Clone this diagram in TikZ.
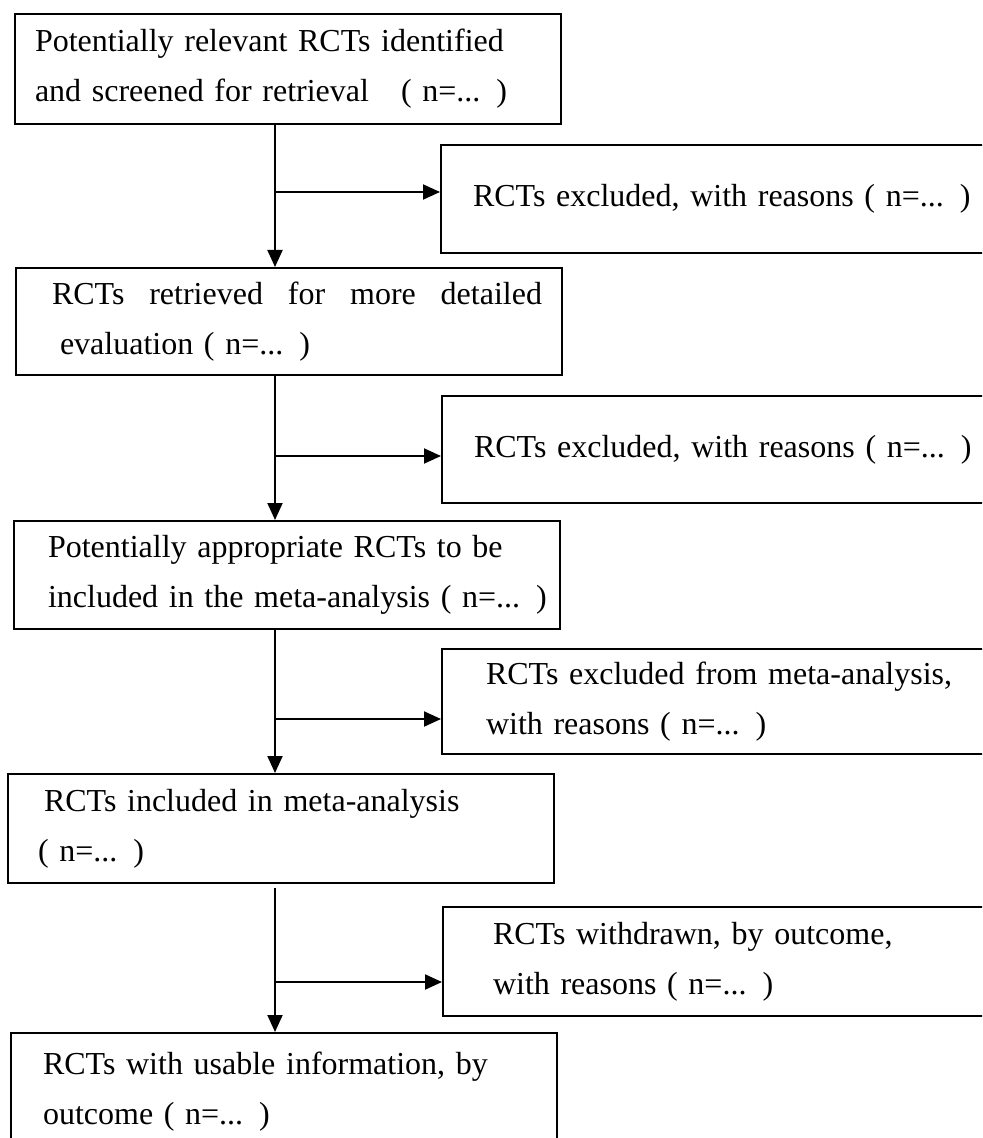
\documentclass[tikz,border=0pt]{standalone}
\usepackage{fontspec}
\setmainfont{Liberation Serif}
\usetikzlibrary{arrows.meta,calc}
\tikzstyle{stage}=[rectangle,
                   draw,
                   line width=1pt,
                   anchor=north west,
                   text width=253pt,
                   inner xsep=10pt,
                   align=left,
                   font=\fontsize{16pt}{25pt}\selectfont]
\tikzstyle{excl}=[rectangle,
                  draw,
                  line width=1pt,
                  anchor=north west,
                  text width=262pt,
                  inner xsep=16pt,
                  align=left,
                  font=\fontsize{16pt}{25pt}\selectfont]
\tikzstyle{line} = [draw, line width=1pt, -{Triangle[length=8.5pt,width=7.5pt]}]

\begin{document}
\begin{tikzpicture}[x=0.5pt,y=-0.5pt]
      % page frame; the boxes on the right and the last box run off it
      \useasboundingbox (0,0) rectangle (982,1138);
      \clip (0,0) rectangle (982,1138);

      \node [stage, minimum height=55pt] (identified) at (14,13)
        {Potentially relevant RCTs identified\\
         and screened for retrieval\quad( n=... )};
      \node [stage, minimum height=53.5pt] (retrieved) at (15,267)
        {\hspace*{8pt}RCTs\hfill retrieved\hfill for\hfill more\hfill detailed\\
         \hspace*{12pt}evaluation ( n=... )};
      \node [stage, minimum height=54pt] (appropriate) at (13,520)
        {\hspace*{7pt}Potentially appropriate RCTs to be\\
         \hspace*{7pt}\mbox{included in the meta-analysis ( n=... )}};
      \node [stage, minimum height=54.5pt] (included) at (7,773)
        {\hspace*{8pt}RCTs included in meta-analysis\\
         \hspace*{5pt}( n=... )};
      \node [stage, minimum height=59pt] (usable) at (10,1032)
        {\hspace*{6pt}RCTs with usable information, by\\
         \hspace*{6pt}outcome ( n=... )};

      \node [excl, minimum height=54pt] (excluded) at (440,144)
        {RCTs excluded, with reasons ( n=... )};
      \node [excl, minimum height=53.5pt] (excludedb) at (441,395)
        {RCTs excluded, with reasons ( n=... )};
      \node [excl, minimum height=52.5pt] (excludedma) at (441,648)
        {\hspace*{6pt}RCTs excluded from meta-analysis,\\
         \hspace*{6pt}with reasons ( n=... )};
      \node [excl, minimum height=54.5pt] (withdrawn) at (442,906)
        {\hspace*{9pt}RCTs withdrawn, by outcome,\\
         \hspace*{9pt}with reasons ( n=... )};

      % branch points on the main line
      \coordinate (j1) at (275,192);
      \coordinate (j2) at (275,456);
      \coordinate (j3) at (275,719);
      \coordinate (j4) at (275,982);

      \path [line] (identified.south -| j1) -- (retrieved.north -| j1);
      \path [line] (retrieved.south -| j2) -- (appropriate.north -| j2);
      \path [line] (appropriate.south -| j3) -- (included.north -| j3);
      \path [line, shorten <=2pt] (included.south -| j4) -- (usable.north -| j4);

      \path [line] (j1) -- (j1 -| excluded.west);
      \path [line] (j2) -- (j2 -| excludedb.west);
      \path [line] (j3) -- (j3 -| excludedma.west);
      \path [line] (j4) -- (j4 -| withdrawn.west);
\end{tikzpicture}
\end{document}
